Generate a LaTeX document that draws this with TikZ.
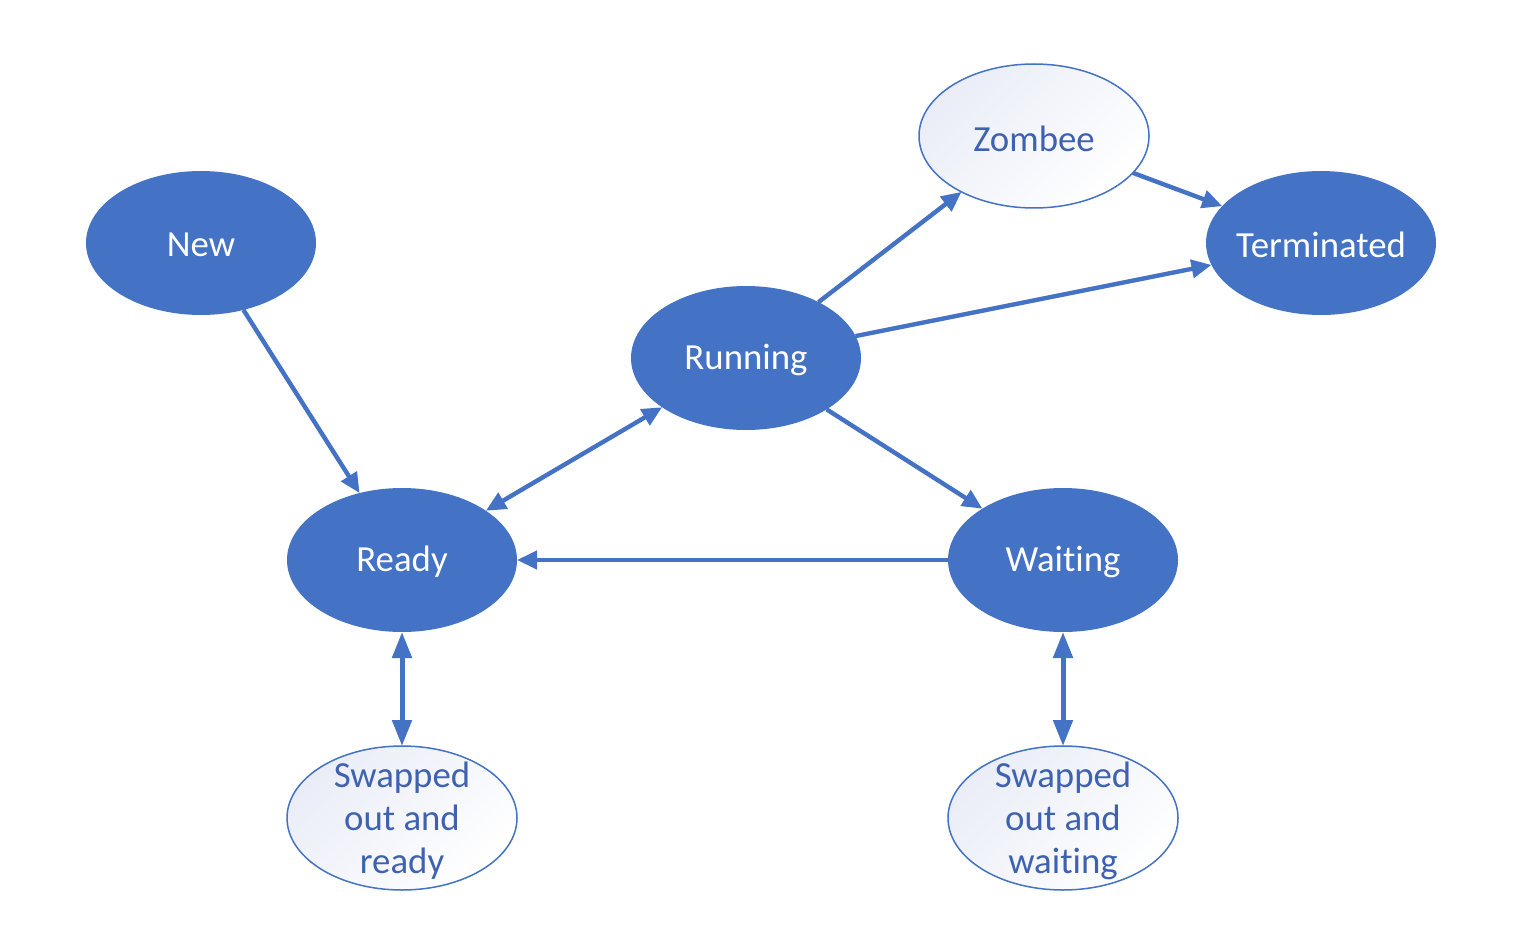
\documentclass[tikz,border=0pt]{standalone}
\usepackage{fontspec}
\setmainfont{Carlito}[Ligatures={NoCommon}]
\usetikzlibrary{shapes.geometric,arrows.meta}
\definecolor{accent}{HTML}{4472C4}
\definecolor{darktext}{HTML}{3F62B0}
\definecolor{paleblue}{RGB}{234,237,247}
\begin{document}
\begin{tikzpicture}[x=0.5pt,y=-0.5pt,
  solidstate/.style={ellipse, draw=none, fill=accent, minimum width=115pt, minimum height=72pt, inner sep=0pt, outer sep=0pt},
  lightstate/.style={ellipse, draw=accent, line width=0.75pt, top color=paleblue, bottom color=white, shading angle=45, minimum width=115pt, minimum height=72pt, inner sep=0pt, outer sep=0pt},
  whitetxt/.style={text=white, font=\fontsize{18.4}{21.5}\selectfont, align=center, yshift=-1pt},
  bluetxt/.style={text=darktext, font=\fontsize{18.4}{21.5}\selectfont, align=center, yshift=-1.5pt},
  conn/.style={draw=accent, line width=2.2pt, -{Triangle[length=10pt,width=9pt]}},
  bothconn/.style={draw=accent, line width=2.2pt, {Triangle[length=10pt,width=9pt]}-{Triangle[length=10pt,width=9pt]}},
  vertconn/.style={draw=accent, line width=2.5pt, {Triangle[length=13pt,width=9.5pt]}-{Triangle[length=13pt,width=9.5pt]}}
]
\useasboundingbox (0,0) rectangle (1540,936);
\fill[white] (0,0) rectangle (1540,936);

\node[solidstate] (new) at (201,243) {};
\node[solidstate] (running) at (746,358) {};
\node[solidstate] (ready) at (402,560) {};
\node[solidstate] (waiting) at (1063,560) {};
\node[solidstate] (term) at (1321,243) {};
\node[lightstate] (zombee) at (1034,136) {};
\node[lightstate] (swr) at (402,818) {};
\node[lightstate] (sww) at (1063,818) {};

\node[whitetxt] (newt) at (new.center) {New};
\node[whitetxt] (runningt) at (running.center) {Running};
\node[whitetxt] (readyt) at (ready.center) {Ready};
\node[whitetxt] (waitingt) at (waiting.center) {Waiting};
\node[whitetxt] (termt) at (term.center) {Terminated};
\node[bluetxt] (zombeet) at (zombee.center) {Zombee};
\node[bluetxt] (swrt) at (swr.center) {Swapped\\out and\\ready};
\node[bluetxt] (swwt) at (sww.center) {Swapped\\out and\\waiting};

\draw[conn] (new) -- (ready);
\draw[bothconn] (ready) -- (running);
\draw[conn] (running) -- (zombee);
\draw[conn] (zombee) -- (term);
\draw[conn] (running) -- (term);
\draw[conn] (running) -- (waiting);
\draw[conn] (waiting) -- (ready);
\draw[vertconn] (ready) -- (swr);
\draw[vertconn] (waiting) -- (sww);
\end{tikzpicture}
\end{document}
